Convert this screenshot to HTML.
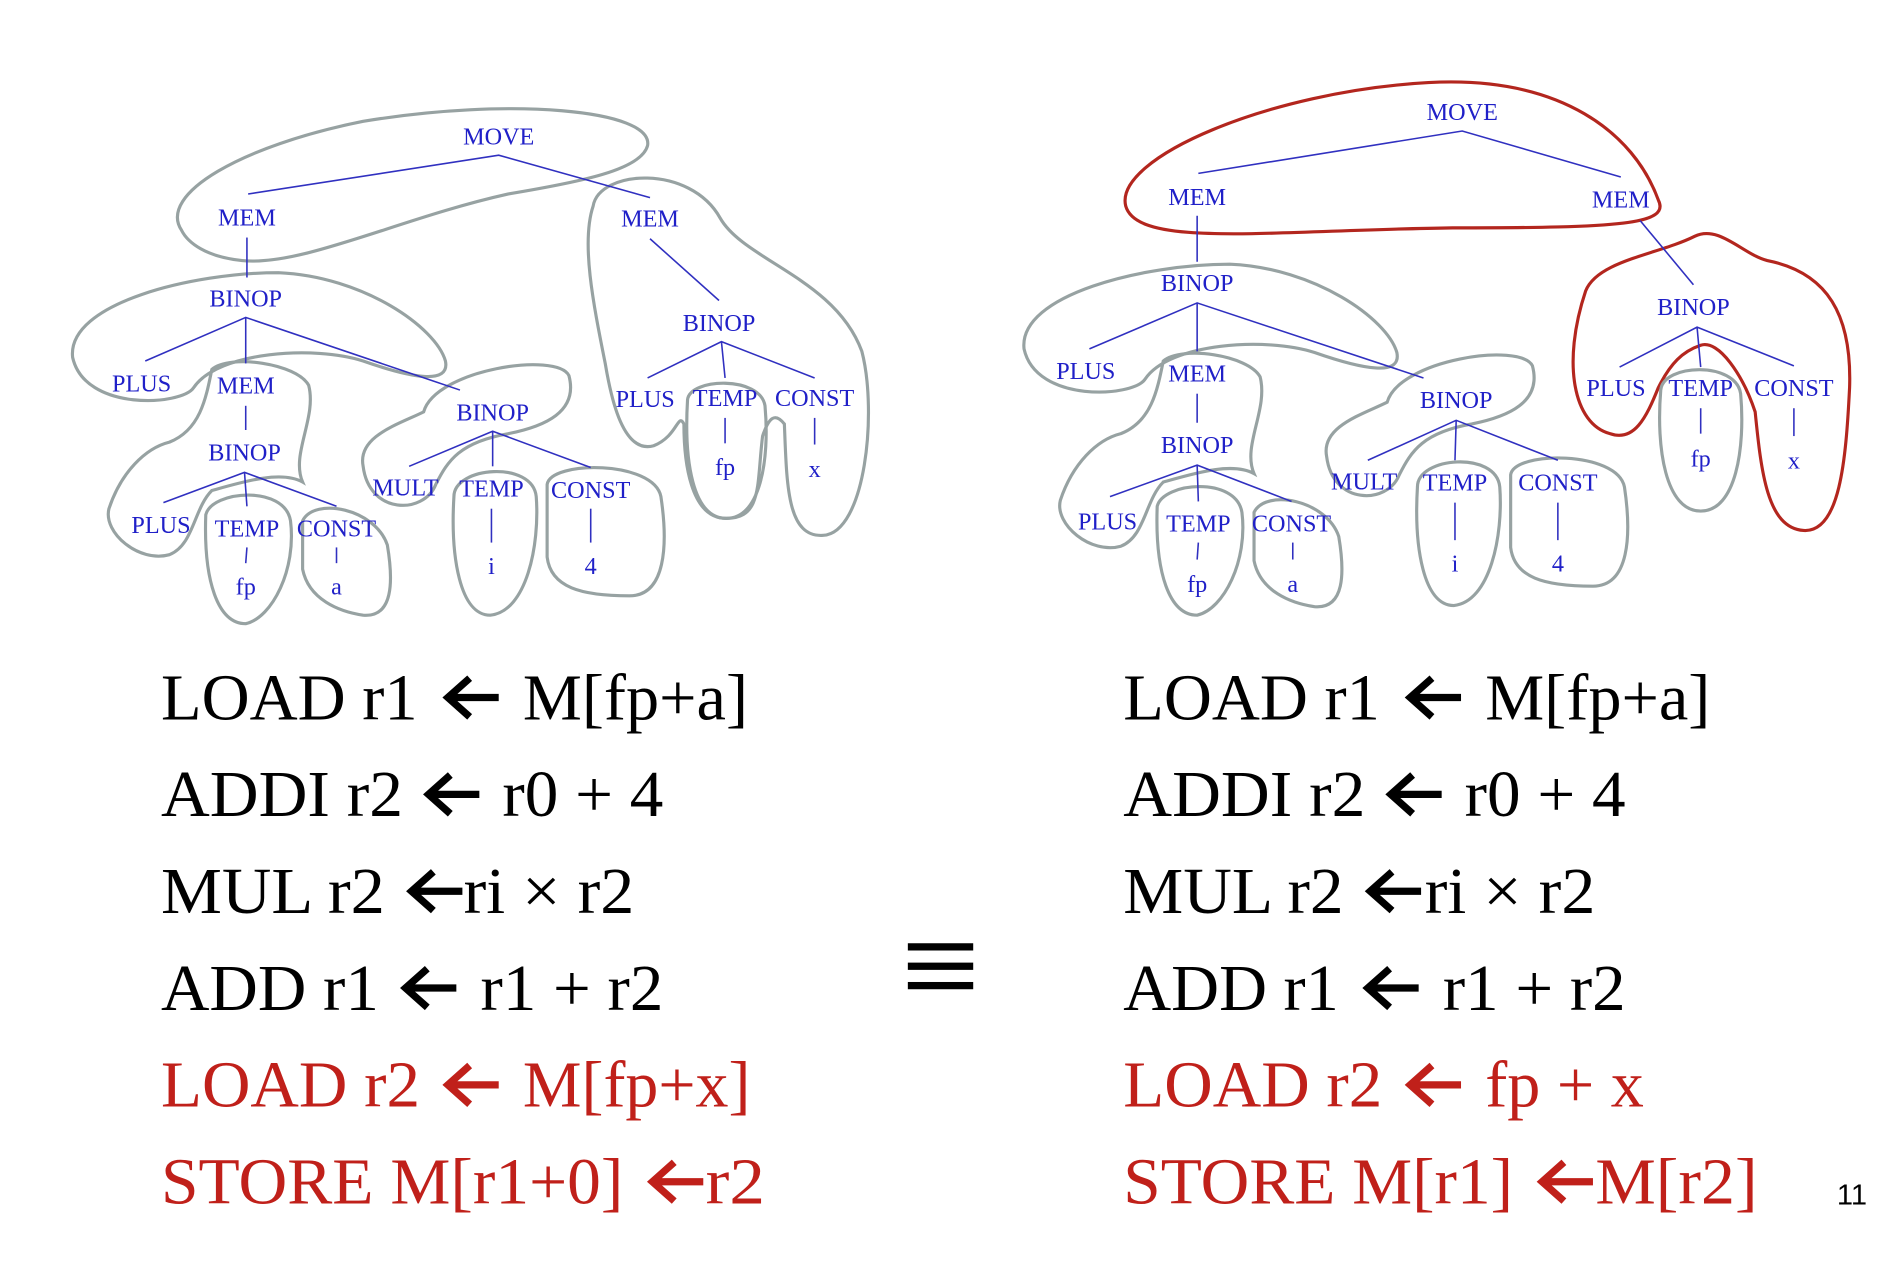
<!DOCTYPE html>
<html><head><meta charset="utf-8"><style>
html,body{margin:0;padding:0;background:#fff;}
svg{display:block;}
.n{font-family:"Liberation Serif",serif;font-size:20px;fill:#2020c8;text-anchor:middle;}
.e{stroke:#3030c0;stroke-width:1.3;fill:none;}
.g{stroke:#97a2a2;stroke-width:2.6;fill:none;}
.r{stroke:#b3261e;stroke-width:2.6;fill:none;}
.b{font-family:"Liberation Serif",serif;font-size:54px;fill:#000;}
.rd{fill:#c0201a;}
.ak{stroke:#000;stroke-width:6;fill:none;}
.ar{stroke:#c0201a;stroke-width:6;fill:none;}
</style></head><body>
<svg width="1898" height="1274" viewBox="0 0 1568 1052" xmlns="http://www.w3.org/2000/svg">
<defs>
<g id="lowblobs">
<path class="g" d="M60,295 C55,250 160,225 230,225 C300,228 360,270 368,298 C372,318 340,312 300,298 C260,285 180,290 160,320 C150,335 70,340 60,295Z"/>
<path class="g" d="M175,305 C190,292 245,300 255,318 C262,345 240,375 250,398 C232,388 200,398 175,405 C160,420 160,450 140,458 C115,465 85,440 90,420 C100,390 120,370 140,365 C165,355 170,330 175,305Z"/>
<path class="g" d="M170,425 C175,405 235,400 240,430 C245,470 225,510 203,515 C180,515 168,480 170,425Z"/>
<path class="g" d="M250,430 C260,410 310,420 320,450 C325,480 325,510 300,508 C280,505 255,495 250,470Z"/>
</g>
<g id="midblobs">
<path class="g" d="M300,385 C295,360 330,350 350,340 C360,305 460,290 470,310 C478,340 450,352 420,358 C380,365 370,380 360,400 C350,425 305,425 300,385Z"/>
<path class="g" d="M375,410 C375,385 440,380 443,410 C446,450 435,505 405,508 C380,508 372,460 375,410Z"/>
<path class="g" d="M452,400 C455,380 540,380 546,410 C552,450 550,492 520,492 C480,492 455,485 452,460Z"/>
</g>
<path id="arr" d="M2,0 H44 M20,-16 L2,0 L20,16"/>
</defs>

<!-- LEFT TREE -->
<path class="g" d="M150,190 C130,160 200,120 300,100 C420,80 540,90 535,120 C530,140 480,150 420,160 C330,180 250,220 200,215 C170,212 155,200 150,190Z"/>
<path class="g" d="M490,170 C495,140 570,135 595,180 C615,215 690,230 712,290 C725,340 715,440 680,442 C650,444 650,400 648,350 C640,340 635,345 630,360 C625,400 630,428 600,428 C570,428 565,380 565,350 C560,340 560,360 540,368 C515,375 505,330 500,300 C490,250 480,200 490,170Z"/>
<path class="g" d="M568,330 C570,312 628,310 632,335 C636,380 628,428 600,428 C572,428 565,380 568,330Z"/>
<use href="#lowblobs"/>
<use href="#midblobs"/>

<polyline class="e" points="205,160 412,128 537,163"/>
<line class="e" x1="204" y1="196" x2="204" y2="229"/>
<line class="e" x1="537" y1="197" x2="594" y2="248"/>
<polyline class="e" points="120,298 203,262 380,322"/><line class="e" x1="203" y1="262" x2="203" y2="300"/>
<polyline class="e" points="535,312 596,282 673,312"/><line class="e" x1="596" y1="282" x2="599" y2="312"/>
<line class="e" x1="203" y1="335" x2="203" y2="355"/>
<polyline class="e" points="135,415 202,390 278,418"/><line class="e" x1="202" y1="390" x2="204" y2="418"/>
<polyline class="e" points="338,385 407,356 488,386"/><line class="e" x1="407" y1="356" x2="407" y2="385"/>
<line class="e" x1="599" y1="345" x2="599" y2="366"/><line class="e" x1="673" y1="345" x2="673" y2="367"/>
<line class="e" x1="204" y1="452" x2="203" y2="465"/><line class="e" x1="278" y1="452" x2="278" y2="465"/>
<line class="e" x1="406" y1="420" x2="406" y2="448"/><line class="e" x1="488" y1="420" x2="488" y2="448"/>

<text class="n" x="412" y="119">MOVE</text>
<text class="n" x="204" y="186">MEM</text><text class="n" x="537" y="187">MEM</text>
<text class="n" x="203" y="253">BINOP</text><text class="n" x="594" y="273">BINOP</text>
<text class="n" x="117" y="323">PLUS</text><text class="n" x="203" y="325">MEM</text><text class="n" x="407" y="347">BINOP</text>
<text class="n" x="533" y="336">PLUS</text><text class="n" x="599" y="335">TEMP</text><text class="n" x="673" y="335">CONST</text>
<text class="n" x="202" y="380">BINOP</text>
<text class="n" x="335" y="409">MULT</text><text class="n" x="406" y="410">TEMP</text><text class="n" x="488" y="411">CONST</text>
<text class="n" x="599" y="392">fp</text><text class="n" x="673" y="394">x</text>
<text class="n" x="133" y="440">PLUS</text><text class="n" x="204" y="443">TEMP</text><text class="n" x="278" y="443">CONST</text>
<text class="n" x="406" y="474">i</text><text class="n" x="488" y="474">4</text>
<text class="n" x="203" y="491">fp</text><text class="n" x="278" y="491">a</text>

<!-- RIGHT TREE -->
<path class="r" d="M930,170 C920,130 1050,75 1180,68 C1290,62 1350,110 1370,165 C1380,185 1340,188 1200,188 C1050,190 940,205 930,170Z"/>
<path class="r" d="M1310,240 C1320,215 1370,210 1400,195 C1420,185 1440,210 1460,215 C1510,225 1530,260 1528,320 C1525,380 1520,440 1490,438 C1460,436 1455,390 1450,340 C1440,310 1420,280 1405,285 C1390,290 1380,300 1370,320 C1360,345 1350,365 1330,358 C1300,350 1290,300 1310,240Z"/>
<path class="g" d="M1372,322 C1374,300 1434,298 1438,325 C1442,370 1434,422 1405,422 C1376,422 1368,370 1372,322Z"/>
<g transform="translate(786,-7)"><use href="#lowblobs"/></g>
<g transform="translate(796,-8)"><use href="#midblobs"/></g>

<polyline class="e" points="990,143 1208,108 1339,146"/>
<line class="e" x1="989" y1="178" x2="989" y2="216"/>
<line class="e" x1="1355" y1="182" x2="1399" y2="235"/>
<polyline class="e" points="900,288 989,250 1176,312"/><line class="e" x1="989" y1="250" x2="989" y2="290"/>
<polyline class="e" points="1338,303 1402,270 1482,302"/><line class="e" x1="1402" y1="270" x2="1405" y2="303"/>
<line class="e" x1="989" y1="325" x2="989" y2="349"/>
<polyline class="e" points="917,410 989,384 1067,414"/><line class="e" x1="989" y1="384" x2="990" y2="414"/>
<polyline class="e" points="1130,380 1203,347 1287,380"/><line class="e" x1="1203" y1="347" x2="1202" y2="380"/>
<line class="e" x1="1405" y1="337" x2="1405" y2="358"/><line class="e" x1="1482" y1="337" x2="1482" y2="360"/>
<line class="e" x1="990" y1="448" x2="989" y2="462"/><line class="e" x1="1068" y1="448" x2="1068" y2="462"/>
<line class="e" x1="1202" y1="415" x2="1202" y2="446"/><line class="e" x1="1287" y1="415" x2="1287" y2="446"/>

<text class="n" x="1208" y="99">MOVE</text>
<text class="n" x="989" y="169">MEM</text><text class="n" x="1339" y="171">MEM</text>
<text class="n" x="989" y="240">BINOP</text><text class="n" x="1399" y="260">BINOP</text>
<text class="n" x="897" y="313">PLUS</text><text class="n" x="989" y="315">MEM</text><text class="n" x="1203" y="337">BINOP</text>
<text class="n" x="1335" y="327">PLUS</text><text class="n" x="1405" y="327">TEMP</text><text class="n" x="1482" y="327">CONST</text>
<text class="n" x="989" y="374">BINOP</text>
<text class="n" x="1127" y="404">MULT</text><text class="n" x="1202" y="405">TEMP</text><text class="n" x="1287" y="405">CONST</text>
<text class="n" x="1405" y="385">fp</text><text class="n" x="1482" y="387">x</text>
<text class="n" x="915" y="437">PLUS</text><text class="n" x="990" y="439">TEMP</text><text class="n" x="1067" y="439">CONST</text>
<text class="n" x="1202" y="472">i</text><text class="n" x="1287" y="472">4</text>
<text class="n" x="989" y="489">fp</text><text class="n" x="1068" y="489">a</text>

<!-- CODE LEFT -->
<g class="b">
<text x="133" y="594" textLength="212" lengthAdjust="spacingAndGlyphs">LOAD r1</text>
<text x="432" y="594" textLength="186" lengthAdjust="spacingAndGlyphs">M[fp+a]</text>
<text x="133" y="674" textLength="200" lengthAdjust="spacingAndGlyphs">ADDI r2</text>
<text x="415" y="674" textLength="133" lengthAdjust="spacingAndGlyphs">r0 + 4</text>
<text x="133" y="754" textLength="185" lengthAdjust="spacingAndGlyphs">MUL r2</text>
<text x="383" y="754" textLength="141" lengthAdjust="spacingAndGlyphs">ri × r2</text>
<text x="133" y="834" textLength="180" lengthAdjust="spacingAndGlyphs">ADD r1</text>
<text x="397" y="834" textLength="151" lengthAdjust="spacingAndGlyphs">r1 + r2</text>
<text x="133" y="914" class="rd" textLength="214" lengthAdjust="spacingAndGlyphs">LOAD r2</text>
<text x="432" y="914" class="rd" textLength="188" lengthAdjust="spacingAndGlyphs">M[fp+x]</text>
<text x="133" y="994" class="rd" textLength="382" lengthAdjust="spacingAndGlyphs">STORE M[r1+0]</text>
<text x="583" y="994" class="rd" textLength="49" lengthAdjust="spacingAndGlyphs">r2</text>
</g>
<use href="#arr" class="ak" x="368" y="576"/>
<use href="#arr" class="ak" x="352" y="656"/>
<use href="#arr" class="ak" x="338" y="736"/>
<use href="#arr" class="ak" x="333" y="816"/>
<use href="#arr" class="ar" x="368" y="896"/>
<use href="#arr" class="ar" x="537" y="976"/>

<!-- CODE RIGHT -->
<g class="b">
<text x="928" y="594" textLength="212" lengthAdjust="spacingAndGlyphs">LOAD r1</text>
<text x="1227" y="594" textLength="186" lengthAdjust="spacingAndGlyphs">M[fp+a]</text>
<text x="928" y="674" textLength="200" lengthAdjust="spacingAndGlyphs">ADDI r2</text>
<text x="1210" y="674" textLength="133" lengthAdjust="spacingAndGlyphs">r0 + 4</text>
<text x="928" y="754" textLength="182" lengthAdjust="spacingAndGlyphs">MUL r2</text>
<text x="1177" y="754" textLength="141" lengthAdjust="spacingAndGlyphs">ri × r2</text>
<text x="928" y="834" textLength="178" lengthAdjust="spacingAndGlyphs">ADD r1</text>
<text x="1192" y="834" textLength="151" lengthAdjust="spacingAndGlyphs">r1 + r2</text>
<text x="928" y="914" class="rd" textLength="214" lengthAdjust="spacingAndGlyphs">LOAD r2</text>
<text x="1227" y="914" class="rd" textLength="131" lengthAdjust="spacingAndGlyphs">fp + x</text>
<text x="928" y="994" class="rd" textLength="322" lengthAdjust="spacingAndGlyphs">STORE M[r1]</text>
<text x="1318" y="994" class="rd" textLength="134" lengthAdjust="spacingAndGlyphs">M[r2]</text>
</g>
<use href="#arr" class="ak" x="1163" y="576"/>
<use href="#arr" class="ak" x="1147" y="656"/>
<use href="#arr" class="ak" x="1130" y="736"/>
<use href="#arr" class="ak" x="1128" y="816"/>
<use href="#arr" class="ar" x="1163" y="896"/>
<use href="#arr" class="ar" x="1272" y="976"/>

<rect x="750" y="779" width="54" height="6" fill="#000"/>
<rect x="750" y="795" width="54" height="6" fill="#000"/>
<rect x="750" y="811" width="54" height="6" fill="#000"/>
<text x="1530" y="995" font-family="Liberation Sans,sans-serif" font-size="24" text-anchor="middle">11</text>
</svg>
</body></html>
